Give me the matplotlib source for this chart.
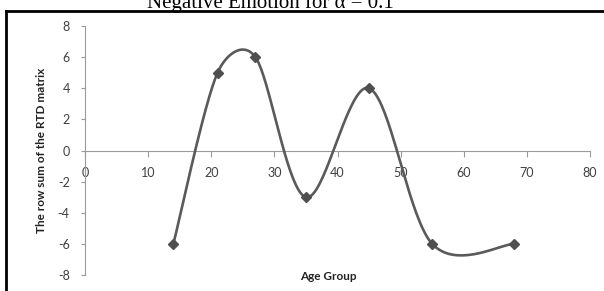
import numpy as np
import matplotlib
matplotlib.use("Agg")
import matplotlib.pyplot as plt
from matplotlib.lines import Line2D

# Data
age_group = [14, 21, 27, 35, 45, 55, 68]
row_sum = [-6, 5, 6, -3, 4, -6, -6]
x_ticks = [0, 10, 20, 30, 40, 50, 60, 70, 80]
y_ticks = [-8, -6, -4, -2, 0, 2, 4, 6, 8]
title = "Negative Emotion for α = 0.1"
xlabel = "Age Group"
ylabel = "The row sum of the RTD matrix"


def smooth_curve_display(P, n=40):
    """Excel-like smoothed line (Bezier, arms clipped to half segment) in display space."""
    P = np.asarray(P, float)
    ext = np.vstack([P[0], P, P[-1]])
    out = []
    t = np.linspace(0, 1, n)[:, None]
    for i in range(len(P) - 1):
        p0, p1, p2, p3 = ext[i], ext[i + 1], ext[i + 2], ext[i + 3]
        d12 = np.linalg.norm(p2 - p1)
        a1 = (p2 - p0) / 6.0
        a2 = (p3 - p1) / 6.0
        n1, n2 = np.linalg.norm(a1), np.linalg.norm(a2)
        if n1 > d12 / 2 and n1 > 0:
            a1 = a1 * (d12 / 2) / n1
        if n2 > d12 / 2 and n2 > 0:
            a2 = a2 * (d12 / 2) / n2
        c1 = p1 + a1
        c2 = p2 - a2
        seg = ((1 - t) ** 3) * p1 + 3 * ((1 - t) ** 2) * t * c1 + 3 * (1 - t) * t ** 2 * c2 + t ** 3 * p2
        out.append(seg if i == 0 else seg[1:])
    return np.vstack(out)


W, H = 604, 291
fig = plt.figure(figsize=(W / 100, H / 100), dpi=100)
fig.patch.set_facecolor("white")

# Title (partly cut off at the top, as in the reference)
fig.text(270 / W, 1 - 8 / H, title, ha="center", va="baseline",
         fontsize=15, family="Liberation Serif", color="black")

# Outer black border (top and left visible)
fig.add_artist(Line2D([6 / W, 6 / W], [0, 1 - 10.7 / H], transform=fig.transFigure,
                      color="black", lw=2.0, solid_capstyle="projecting"))
fig.add_artist(Line2D([6 / W, 1.0], [1 - 10.7 / H, 1 - 10.7 / H], transform=fig.transFigure,
                      color="black", lw=2.0, solid_capstyle="projecting"))

ax = fig.add_axes([85 / W, 1 - 275 / H, (590 - 85) / W, (275 - 26) / H])
ax.set_xlim(0, 80)
ax.set_ylim(-8, 8)

disp = ax.transData.transform(np.column_stack([age_group, row_sum]))
curve = ax.transData.inverted().transform(smooth_curve_display(disp))
ax.plot(curve[:, 0], curve[:, 1], color="#5a5a5a", lw=1.9, solid_capstyle="round", zorder=3)
ax.plot(age_group, row_sum, linestyle="none", marker="D", ms=5.5,
        color="#4f4f4f", zorder=4)

axis_col = "#9a9a9a"
for s in ["top", "right"]:
    ax.spines[s].set_visible(False)
ax.spines["bottom"].set_position(("data", 0))
ax.spines["bottom"].set_color(axis_col)
ax.spines["left"].set_color(axis_col)
ax.spines["bottom"].set_linewidth(0.8)
ax.spines["left"].set_linewidth(0.8)

ax.set_xticks(x_ticks)
ax.set_yticks(y_ticks)
ax.set_yticklabels([str(v) for v in y_ticks])
ax.tick_params(axis="x", direction="out", length=4, width=0.8, color=axis_col,
               pad=8, labelsize=9, labelcolor="#404040")
ax.tick_params(axis="y", direction="out", length=3, width=0.8, color=axis_col,
               pad=8, labelsize=9, labelcolor="#404040")
for lab in ax.get_xticklabels() + ax.get_yticklabels():
    lab.set_family("Lato")

fig.text(42 / W, 1 - 150 / H, ylabel, rotation=90, ha="center", va="center",
         fontsize=8.5, fontweight="bold", family="Lato", color="#222222")
fig.text(328 / W, 1 - 277 / H, xlabel, ha="center", va="center",
         fontsize=8.5, fontweight="bold", family="Lato", color="#222222")

fig.savefig("out.png", dpi=100)
